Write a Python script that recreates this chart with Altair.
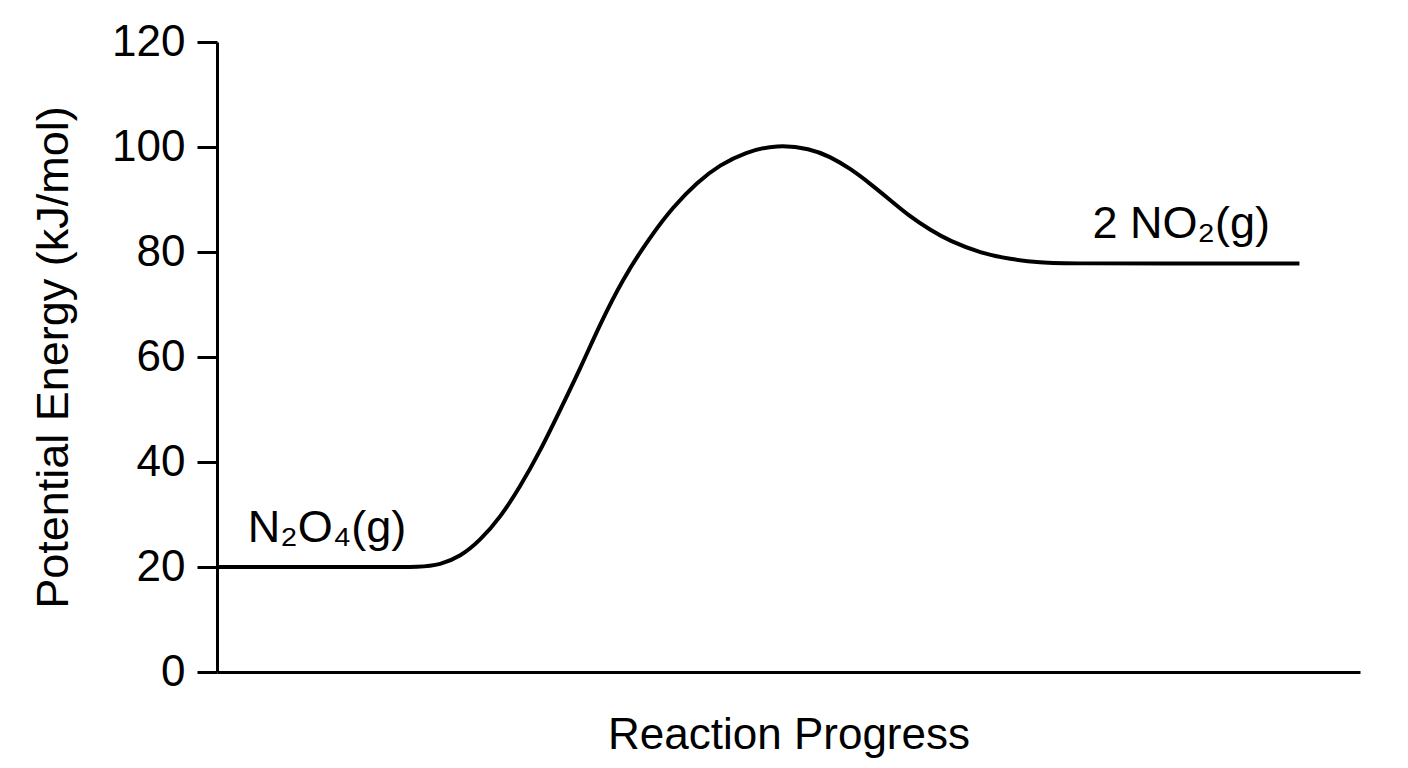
import pandas as pd
import altair as alt

# reaction coordinate (0-100) and potential energy (kJ/mol)
progress = [0, 14.3, 17.8, 19.5, 21.3, 23.0, 24.8, 26.5, 28.3, 30.0, 31.8, 33.5,
            35.5, 37.9, 39.9, 42.0, 44.0, 46.2, 49.0, 51.9, 53.6, 55.4, 57.1,
            58.9, 60.6, 62.4, 64.1, 66.8, 69.4, 72.0, 74.6, 86.0, 94.7]
energy = [20, 20, 20, 20.4, 22, 25, 29.5, 35.2, 42.2, 49.8, 57.9, 66.2,
          74.9, 82.9, 88.6, 93.3, 96.6, 99.0, 100.5, 99.7, 98.2, 95.9, 93.1,
          89.9, 86.8, 84.2, 82.1, 79.8, 78.6, 78.0, 77.8, 77.8, 77.8]

label_text = ["N₂O₄(g)", "2 NO₂(g)"]
label_x = [2.7, 76.6]
label_y = [24.8, 82.7]

y_ticks = [0, 20, 40, 60, 80, 100, 120]

FONT = "Liberation Sans"

curve = pd.DataFrame({"progress": progress, "energy": energy})
labels = pd.DataFrame({"text": label_text, "x": label_x, "y": label_y})

x_scale = alt.Scale(domain=[0, 100], nice=False)
y_scale = alt.Scale(domain=[0, 120], nice=False)

line = alt.Chart(curve).mark_line(
    color="black", strokeWidth=4, interpolate="basis"
).encode(
    x=alt.X("progress:Q", scale=x_scale,
            axis=alt.Axis(title="Reaction Progress", ticks=False, labels=False,
                          grid=False, domainWidth=3, domainColor="black",
                          titleFontSize=44, titleFont=FONT, titleFontWeight="normal",
                          titleColor="black", titlePadding=41)),
    y=alt.Y("energy:Q", scale=y_scale,
            axis=alt.Axis(title="Potential Energy (kJ/mol)", values=y_ticks,
                          grid=False, domainWidth=3, domainColor="black",
                          tickWidth=3, tickSize=20, tickColor="black",
                          labelFontSize=44, labelFont=FONT, labelColor="black",
                          labelPadding=12,
                          titleFontSize=45, titleFont=FONT, titleFontWeight="normal",
                          titleColor="black", titlePadding=35)),
)

text = alt.Chart(labels).mark_text(
    align="left", baseline="alphabetic", fontSize=45, font=FONT, color="black"
).encode(
    x=alt.X("x:Q", scale=x_scale),
    y=alt.Y("y:Q", scale=y_scale),
    text="text:N",
)

chart = (line + text).properties(
    width=1143,
    height=630,
    autosize="none",
    padding={"left": 209, "top": 34, "right": 40, "bottom": 88},
).configure_view(strokeWidth=0)

chart.save("out.html", embed_options={"renderer": "svg", "actions": False})
